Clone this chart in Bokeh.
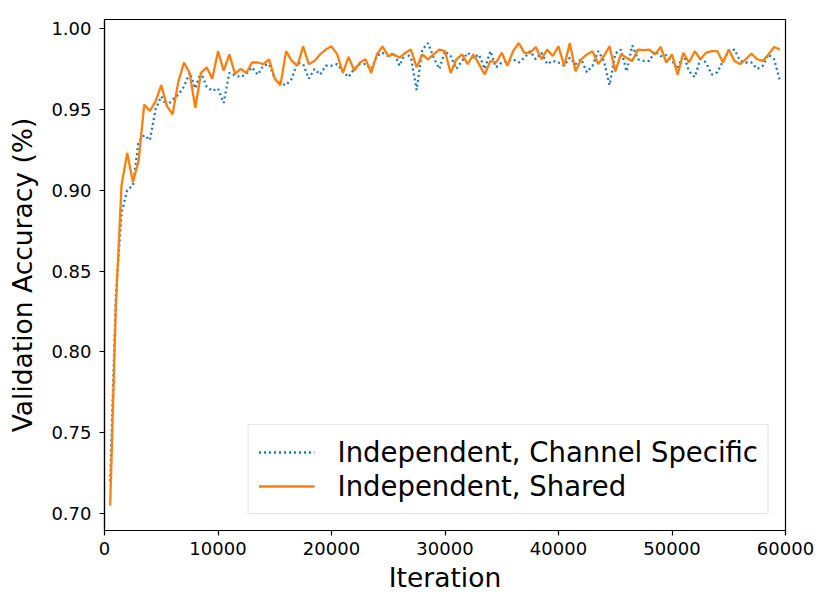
from bokeh.plotting import figure
from bokeh.models import FixedTicker, PrintfTickFormatter
from bokeh.embed import file_html
from bokeh.resources import INLINE

iterations = list(range(500, 60000, 500))

channel_specific = [
    0.720, 0.835, 0.886, 0.900, 0.903, 0.930, 0.934, 0.931, 0.950, 0.958,
    0.952, 0.956, 0.959, 0.964, 0.9727, 0.963, 0.973, 0.964, 0.9615, 0.963,
    0.954, 0.9727, 0.971, 0.970, 0.972, 0.976, 0.9715, 0.977, 0.978, 0.969,
    0.966, 0.965, 0.969, 0.979, 0.978, 0.969, 0.975, 0.9715, 0.977, 0.977,
    0.978, 0.9735, 0.970, 0.975, 0.978, 0.978, 0.975, 0.983, 0.985, 0.983,
    0.985, 0.977, 0.985, 0.982, 0.962, 0.987, 0.991, 0.982, 0.975, 0.986,
    0.983, 0.975, 0.980, 0.985, 0.982, 0.984, 0.975, 0.986, 0.976, 0.979,
    0.980, 0.981, 0.979, 0.982, 0.986, 0.981, 0.985, 0.978, 0.980, 0.979,
    0.977, 0.982, 0.978, 0.981, 0.973, 0.977, 0.986, 0.980, 0.965, 0.9845,
    0.987, 0.9735, 0.9895, 0.981, 0.980, 0.980, 0.986, 0.983, 0.9835, 0.980,
    0.975, 0.9845, 0.9735, 0.970, 0.981, 0.979, 0.9715, 0.973, 0.980, 0.986,
    0.987, 0.980, 0.979, 0.979, 0.975, 0.977, 0.984, 0.981, 0.968,
]

shared = [
    0.705, 0.828, 0.903, 0.923, 0.905, 0.918, 0.953, 0.949, 0.955, 0.965,
    0.952, 0.947, 0.967, 0.979, 0.9725, 0.951, 0.9725, 0.976, 0.969, 0.986,
    0.974, 0.984, 0.972, 0.975, 0.9725, 0.979, 0.979, 0.978, 0.981, 0.969,
    0.965, 0.986, 0.980, 0.977, 0.989, 0.978, 0.980, 0.984, 0.987, 0.989,
    0.984, 0.9725, 0.9825, 0.974, 0.979, 0.981, 0.9725, 0.984, 0.989, 0.983,
    0.984, 0.982, 0.985, 0.987, 0.976, 0.984, 0.981, 0.984, 0.987, 0.986,
    0.9725, 0.981, 0.984, 0.978, 0.984, 0.978, 0.9715, 0.980, 0.979, 0.985,
    0.977, 0.986, 0.991, 0.985, 0.985, 0.9886, 0.981, 0.987, 0.983, 0.989,
    0.977, 0.991, 0.9735, 0.981, 0.984, 0.986, 0.978, 0.983, 0.989, 0.9735,
    0.984, 0.982, 0.980, 0.987, 0.9866, 0.987, 0.984, 0.9886, 0.979, 0.984,
    0.9715, 0.985, 0.979, 0.986, 0.981, 0.985, 0.986, 0.986, 0.979, 0.987,
    0.980, 0.978, 0.981, 0.9845, 0.981, 0.980, 0.984, 0.9886, 0.987,
]

x_ticks = [0, 10000, 20000, 30000, 40000, 50000, 60000]
y_ticks = [0.70, 0.75, 0.80, 0.85, 0.90, 0.95, 1.00]

FONT = "DejaVu Sans"

p = figure(width=820, height=598, x_range=(0, 60000), y_range=(0.6895, 1.0056),
           output_backend="svg", toolbar_location=None,
           min_border_left=104, min_border_right=35, min_border_top=19, min_border_bottom=68)

p.xgrid.visible = False
p.ygrid.visible = False
p.outline_line_color = "black"
p.outline_line_width = 1.2
p.background_fill_color = "white"
p.border_fill_color = "white"

p.line(iterations, channel_specific, color="#1f77b4", line_width=2.3, line_dash="2 3",
       legend_label="Independent, Channel Specific")
p.line(iterations, shared, color="#ff7f0e", line_width=2.3,
       legend_label="Independent, Shared")

p.xaxis.ticker = FixedTicker(ticks=x_ticks)
p.yaxis.ticker = FixedTicker(ticks=y_ticks)
p.xaxis.formatter = PrintfTickFormatter(format="%d")
p.yaxis.formatter = PrintfTickFormatter(format="%.2f")

for ax in (p.xaxis[0], p.yaxis[0]):
    ax.axis_line_color = "black"
    ax.axis_line_width = 1.2
    ax.major_tick_line_color = "black"
    ax.major_tick_line_width = 1.2
    ax.major_tick_out = 5
    ax.major_tick_in = 0
    ax.minor_tick_line_color = None
    ax.major_label_text_font = FONT
    ax.major_label_text_font_size = "18px"
    ax.major_label_text_color = "black"
    ax.axis_label_text_font = FONT
    ax.axis_label_text_font_size = "26.5px"
    ax.axis_label_text_font_style = "normal"
    ax.axis_label_text_color = "black"

p.xaxis.axis_label = "Iteration"
p.yaxis.axis_label = "Validation Accuracy (%)"
p.xaxis.major_label_standoff = 6
p.yaxis.major_label_standoff = 8
p.xaxis.axis_label_standoff = 4
p.yaxis.axis_label_standoff = 10

lg = p.legend[0]
lg.location = "bottom_right"
lg.margin = 16
lg.padding = 10
lg.spacing = 0
lg.label_text_font = FONT
lg.label_text_font_size = "27.5px"
lg.label_text_color = "black"
lg.label_height = 34
lg.glyph_height = 34
lg.glyph_width = 56
lg.label_standoff = 23
lg.border_line_color = "#cccccc"
lg.border_line_width = 1
lg.background_fill_color = "white"
lg.background_fill_alpha = 0.8

open("out.html", "w").write(file_html(p, INLINE))
